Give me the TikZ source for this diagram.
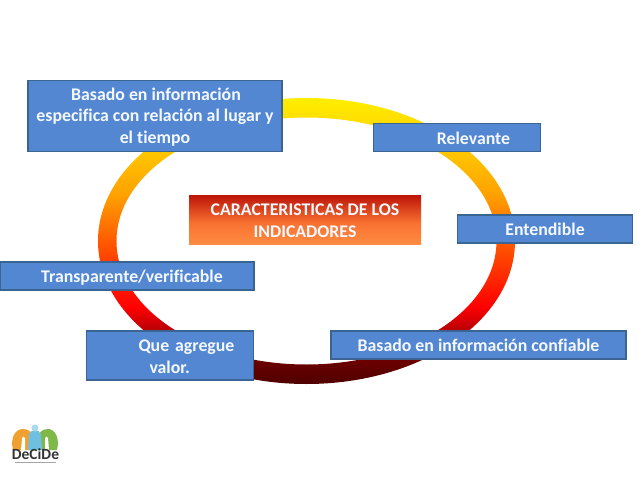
\documentclass[tikz,border=0pt]{standalone}
\usepackage{fontspec}
\setmainfont{Carlito}[Ligatures=NoCommon]
\setsansfont{Carlito}
\definecolor{boxfill}{HTML}{5487D1}
\definecolor{boxline}{HTML}{3A6593}
\definecolor{boxtext}{HTML}{F4F8FF}
\definecolor{ra}{HTML}{500000}
\definecolor{rb}{HTML}{6A0000}
\definecolor{rc}{HTML}{B00008}
\definecolor{rd}{HTML}{FF0000}
\definecolor{re}{HTML}{FF5A00}
\definecolor{rf}{HTML}{FFA000}
\definecolor{rg}{HTML}{FFD000}
\definecolor{rh}{HTML}{FFEE00}
\definecolor{ta}{HTML}{FF8C42}
\definecolor{tb}{HTML}{F87030}
\definecolor{tc}{HTML}{BC1408}
\definecolor{logoorange}{HTML}{F0A030}
\definecolor{logoblue}{HTML}{6FC0E0}
\definecolor{logogreen}{HTML}{7DB848}
\pgfdeclareverticalshading{ringshade}{100bp}{
 color(0bp)=(ra);
 color(25bp)=(ra);
 color(29bp)=(rb);
 color(34bp)=(rc);
 color(38.5bp)=(rd);
 color(50bp)=(re);
 color(58bp)=(rf);
 color(67.5bp)=(rg);
 color(75bp)=(rh);
 color(100bp)=(rh)}
\pgfdeclareverticalshading{titleshade}{100bp}{
 color(0bp)=(ta);
 color(25bp)=(ta);
 color(47bp)=(tb);
 color(75bp)=(tc);
 color(100bp)=(tc)}
\newcommand{\downstrut}{\rule{0pt}{14.4pt}}
\tikzset{
 x=1pt,y=-1pt,
 every node/.style={font=\fontsize{17.8}{21.5}\selectfont\bfseries,text=boxtext,inner sep=0pt},
 infobox/.style={draw=boxline,line width=1.2pt,fill=boxfill,align=center,anchor=center},
 onelinebox/.style={infobox,text height=15pt,text depth=2pt,minimum height=28pt},
}
\begin{document}
\begin{tikzpicture}
\useasboundingbox (0,0) rectangle (638,479);
\fill[white] (0,0) rectangle (638,479);
% ring
\begin{scope}[even odd rule]
 \clip (306.5,241) ellipse [x radius=208.5,y radius=143]
   (306.5,241) ellipse [x radius=190,y radius=123.5];
 \path[shading=ringshade] (90,98) rectangle (525,384);
\end{scope}
% centre
\node[minimum width=232pt,minimum height=49pt,align=center,shading=titleshade] (title) at (305,219.5)
 {\downstrut CARACTERISTICAS DE LOS\\INDICADORES};
% boxes
\node[infobox,minimum width=254pt,minimum height=71pt] (lugar) at (155,116)
 {\downstrut\hspace*{2pt}Basado en información\\especifica con relación al lugar y\\el tiempo};
\node[onelinebox,minimum width=167pt] (relevante) at (457,137.5) {\hspace*{33pt}Relevante};
\node[onelinebox,minimum width=175pt] (entendible) at (545,229) {Entendible};
\node[onelinebox,minimum width=254pt] (transp) at (127,276) {\hspace*{10pt}Transparente/verificable};
\node[infobox,minimum width=167pt,minimum height=49pt,text width=167pt,align=left] (valor) at (170,355.5)
 {\downstrut\hspace*{52pt}Que agregue\\\hspace*{63pt}valor.};
\node[onelinebox,minimum width=295pt] (confiable) at (478.5,345) {Basado en información confiable};
% logo
\fill[logoorange] (13,450) .. controls (10,438) and (15,429) .. (23,429) .. controls (29,429) and (33,433) .. (34,439) -- (33,450) -- cycle;
\fill[logogreen] (57,450) .. controls (60,438) and (55,429) .. (48,429) .. controls (42,429) and (38,433) .. (37,439) -- (38,450) -- cycle;
\fill[logoblue] (28,450) -- (29,434) .. controls (31,429) and (39,429) .. (41,434) -- (42,450) -- cycle;
\fill[logoblue!60!white] (35,428) circle (3.5);
\fill[white] (21,450) -- (22,438) .. controls (23,436) and (24,436) .. (25,438) -- (25,450) -- cycle;
\fill[white] (49,450) -- (48,438) .. controls (47,436) and (46,436) .. (45,438) -- (45,450) -- cycle;
\node[font=\fontsize{15.5}{15.5}\selectfont\bfseries\sffamily,text=black!80] (logotext) at (35.5,454.5) {DeCiDe};
\draw[black!35,line width=0.8pt] (15,462) -- (56,462);
\end{tikzpicture}
\end{document}
